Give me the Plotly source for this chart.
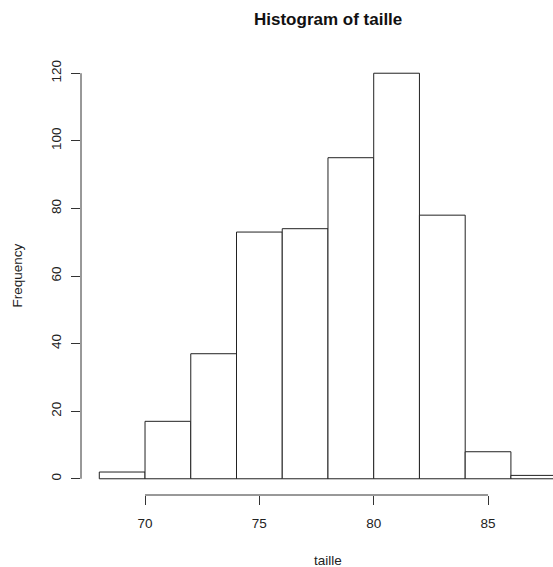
import plotly.graph_objects as go

bin_edges = [68, 70, 72, 74, 76, 78, 80, 82, 84, 86, 88]
counts = [2, 17, 37, 73, 74, 95, 120, 78, 8, 1]
x_ticks = [70, 75, 80, 85]
y_ticks = [0, 20, 40, 60, 80, 100, 120]

centers = [(a + b) / 2 for a, b in zip(bin_edges[:-1], bin_edges[1:])]
widths = [b - a for a, b in zip(bin_edges[:-1], bin_edges[1:])]

font = "Liberation Sans, Arial, sans-serif"

fig = go.Figure(go.Bar(
    x=centers, y=counts, width=widths,
    marker=dict(color="white", line=dict(color="#222222", width=1)),
    hoverinfo="skip",
))

x0 = bin_edges[0] - 0.04 * (bin_edges[-1] - bin_edges[0])
y0 = -0.04 * max(y_ticks)
y1 = max(y_ticks) * 1.04

fig.update_layout(
    width=553, height=567,
    margin=dict(l=81, r=0, t=57, b=72),
    plot_bgcolor="white", paper_bgcolor="white",
    showlegend=False,
    font=dict(family=font, size=12, color="#222222"),
    xaxis=dict(range=[x0, 87.84], tickvals=x_ticks, ticks="outside", ticklen=9,
               tickcolor="#333333", showgrid=False, zeroline=False, showline=False,
               tickfont=dict(size=13.5), ticklabelstandoff=7),
    yaxis=dict(range=[y0, y1], tickvals=y_ticks, ticks="outside", ticklen=9,
               tickcolor="#333333", showgrid=False, zeroline=False, showline=False,
               tickangle=-90, tickfont=dict(size=13.5), ticklabelstandoff=5),
    shapes=[
        dict(type="line", xref="paper", yref="y", x0=0, x1=0, y0=min(y_ticks), y1=max(y_ticks),
             line=dict(color="#333333", width=1)),
        dict(type="line", xref="x", yref="paper", x0=min(x_ticks), x1=max(x_ticks), y0=0, y1=0,
             line=dict(color="#333333", width=1)),
    ],
    annotations=[
        dict(text="<b>Histogram of taille</b>", xref="paper", yref="paper", x=0.5, y=1,
             yshift=49, xshift=11, showarrow=False, font=dict(size=17, color="#111111")),
        dict(text="taille", xref="paper", yref="paper", x=0.5, y=0, yshift=-75, xshift=11,
             showarrow=False, font=dict(size=13.5)),
        dict(text="Frequency", xref="paper", yref="paper", x=0, y=0.5, xshift=-74, textangle=-90,
             showarrow=False, font=dict(size=13.5)),
    ],
)

fig.write_html("out.html", config={"displayModeBar": False},
               post_script="document.body.style.margin='0';document.body.style.overflow='hidden';")
